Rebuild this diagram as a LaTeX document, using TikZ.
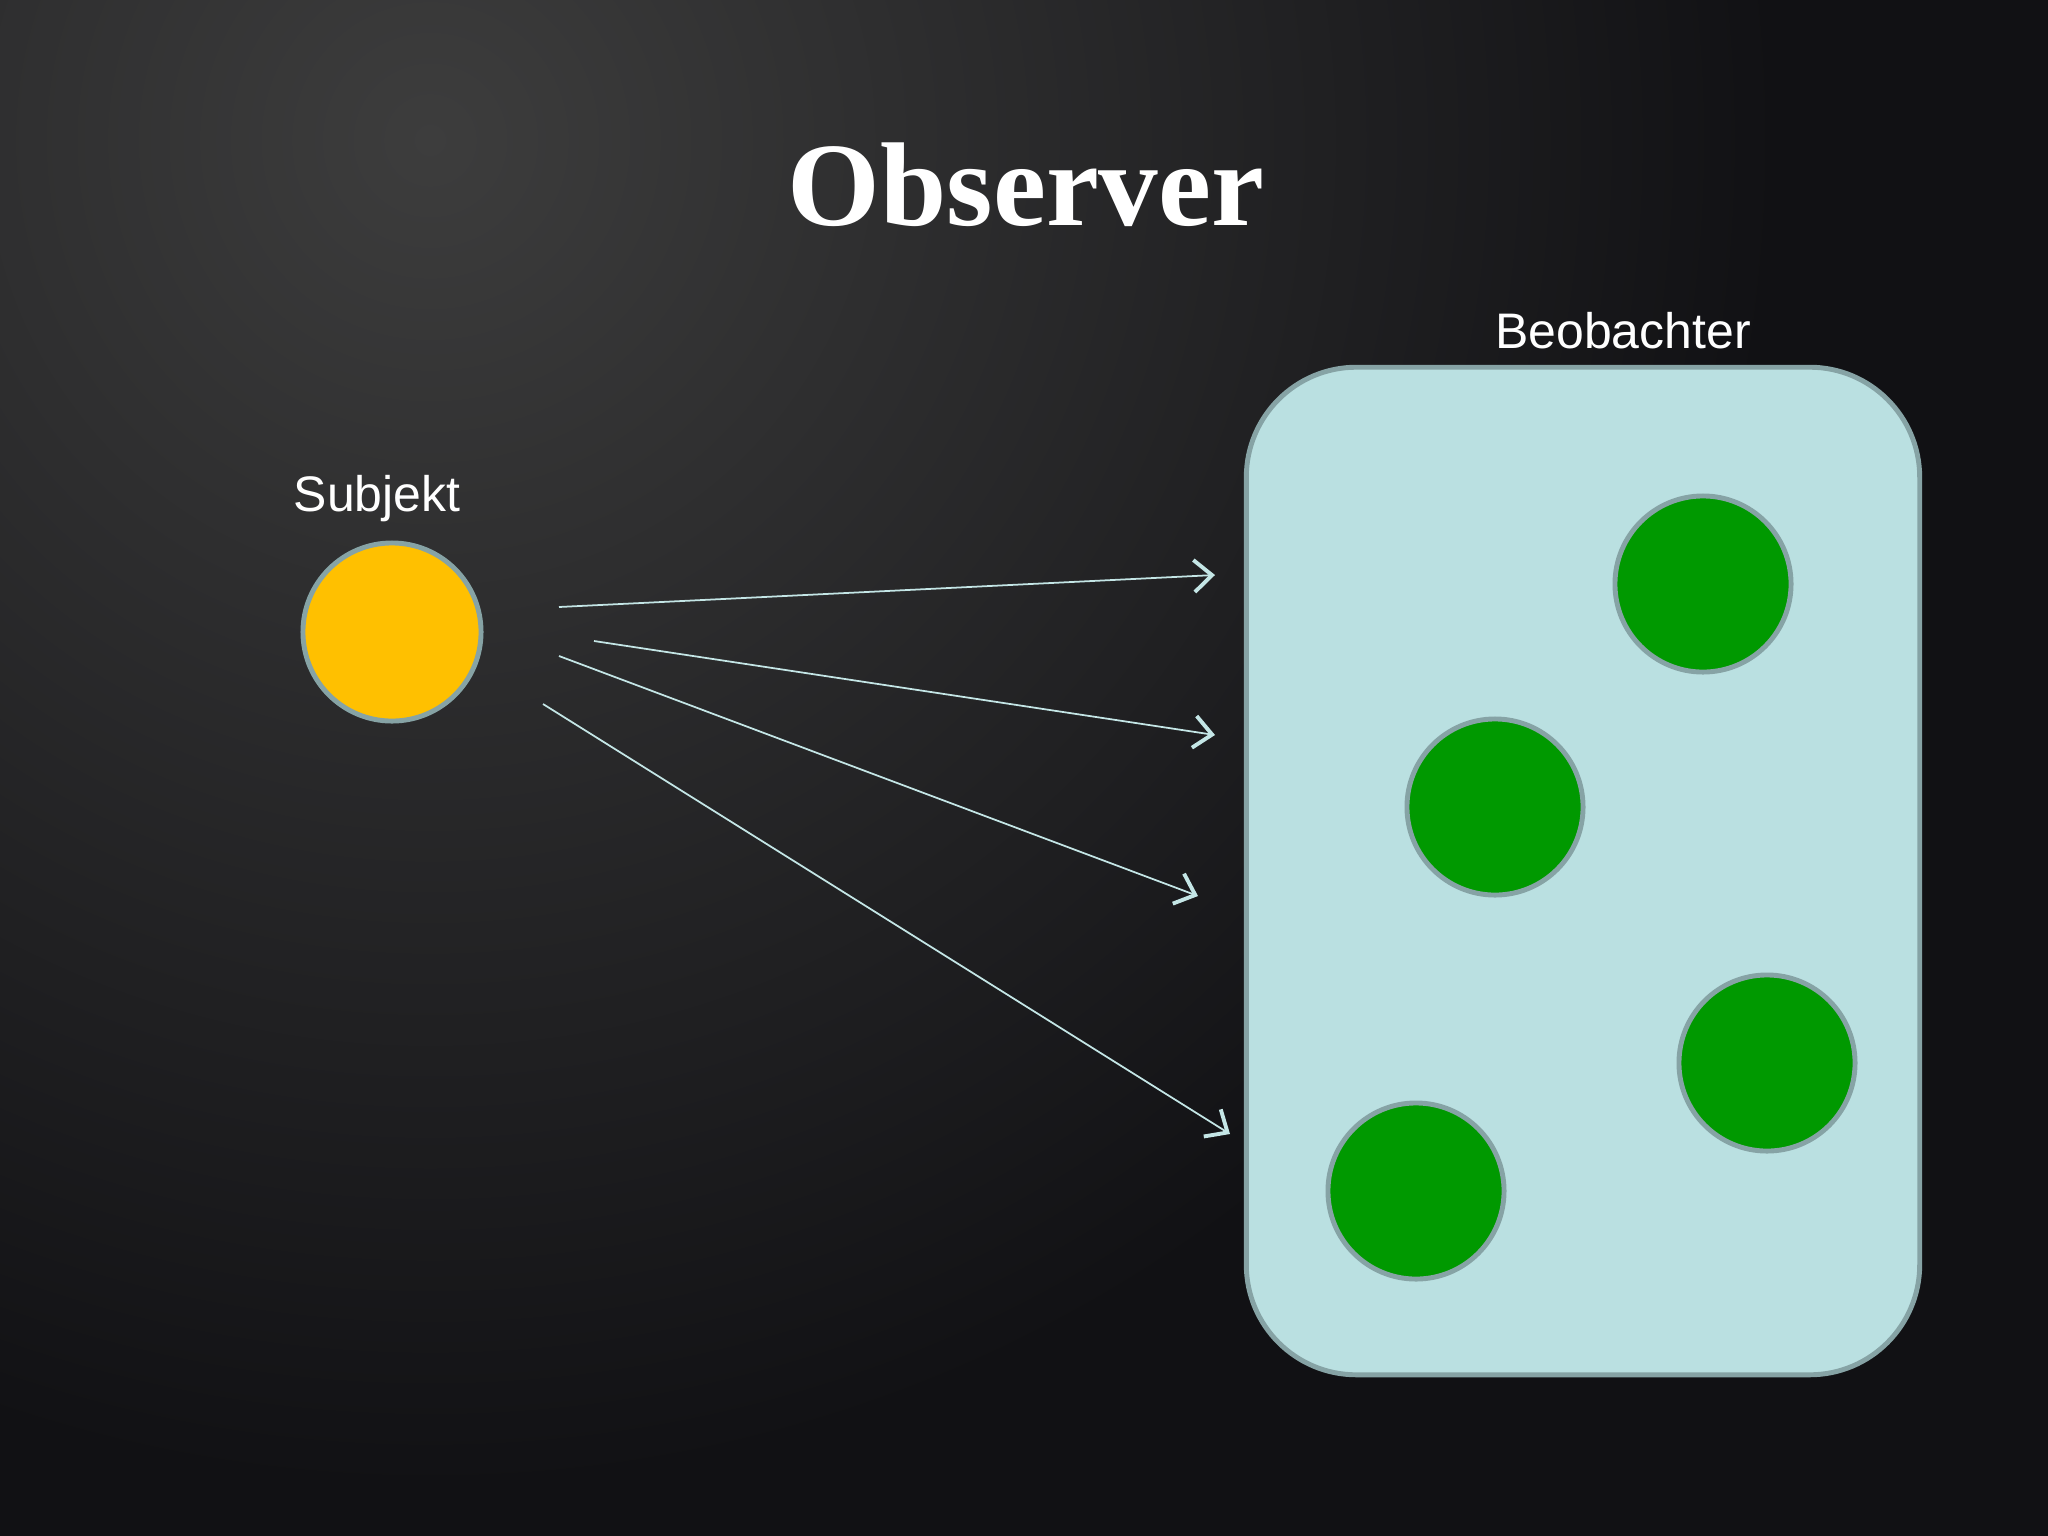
\documentclass[tikz,border=0pt]{standalone}
\usepackage{fontspec}
\newfontfamily\labelfont{Liberation Sans}
\newfontfamily\titlefont{Liberation Serif}
\usetikzlibrary{positioning, arrows.meta}

\definecolor{bgin}{HTML}{3D3D3D}
\definecolor{bgout}{HTML}{111114}
\definecolor{rim}{HTML}{86A3A5}
\definecolor{sunfill}{HTML}{FFC000}
\definecolor{dotfill}{HTML}{009900}
\definecolor{boxfill}{HTML}{BAE0E1}
\definecolor{ray}{HTML}{C4E6E6}

\begin{document}
\begin{tikzpicture}[x=0.01cm,y=-0.01cm,
  dot/.style={circle,draw=rim,line width=1.4pt,minimum size=1.76cm,inner sep=0,fill=dotfill},
  sun/.style={dot,fill=sunfill,minimum size=1.78cm},
  group/.style={rectangle,draw=rim,line width=1.4pt,fill=boxfill,minimum width=6.73cm,minimum height=10.07cm,rounded corners=1.1cm},
  lbl/.style={text=white,inner sep=0,font=\labelfont\fontsize{14.2}{17}\selectfont},
  ray/.style={draw=ray,line width=0.5pt,-{Straight Barb[length=1.8mm,width=3.2mm,line width=1.1pt]}}]
\useasboundingbox (0,0) rectangle (2048,1536);
\fill[bgout] (0,0) rectangle (2048,1536);
\begin{scope}
  \clip (0,0) rectangle (2048,1536);
  \shade[inner color=bgin, outer color=bgout] (430,140) circle (1350);
\end{scope}

\node (title) [anchor=base,text=white,inner sep=0,font=\titlefont\bfseries\fontsize{33.9}{40}\selectfont] at (1026,225) {Observer};

\node (subj) [sun] at (392,632) {};
\node (subjlabel) [lbl,above=1.8mm of subj,xshift=-1.5mm] {Subjekt};

\node (obs) [group] at (1583,871) {};
\node (obslabel) [lbl,above=1.5mm of obs,xshift=4mm] {Beobachter};

\node (d1) [dot] at (1703,584) {};
\node (d2) [dot] at (1495,807) {};
\node (d3) [dot] at (1767,1063) {};
\node (d4) [dot] at (1416,1191) {};

% ray start and end points
\coordinate (s1) at (559,607);  \coordinate (e1) at (1215,575);
\coordinate (s2) at (594,641);  \coordinate (e2) at (1215,735);
\coordinate (s3) at (559,656);  \coordinate (e3) at (1198,896);
\coordinate (s4) at (543,704);  \coordinate (e4) at (1230,1134);
\foreach \i in {1,...,4}
  \draw [ray] (s\i) -- (e\i);
\end{tikzpicture}
\end{document}
